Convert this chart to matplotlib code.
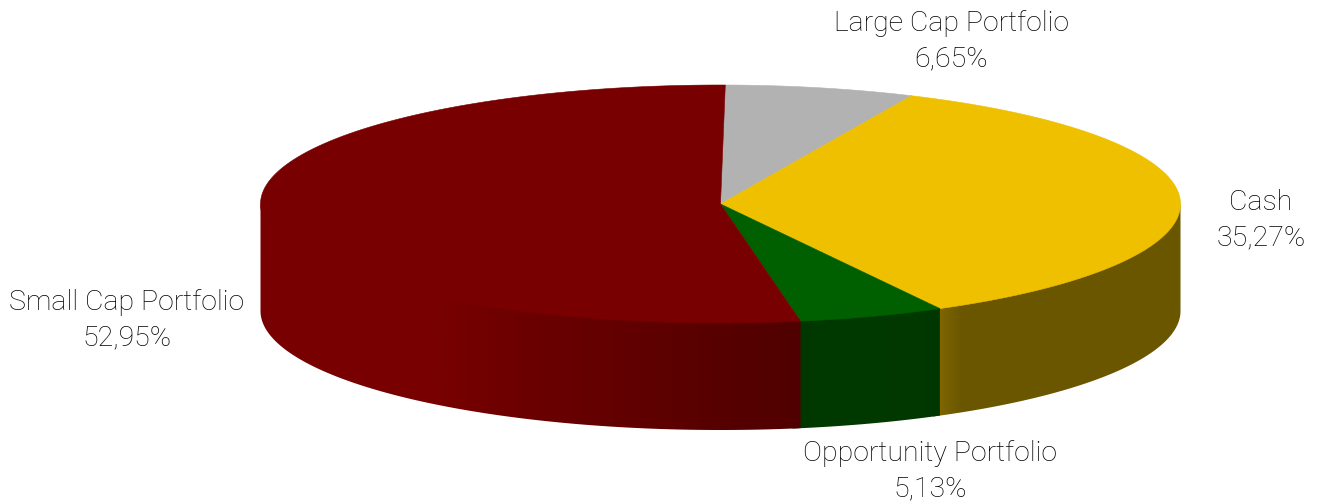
import numpy as np
import matplotlib
matplotlib.use('Agg')
import matplotlib.pyplot as plt
from matplotlib.colors import to_rgb
from matplotlib.patches import Polygon

labels = ['Large Cap Portfolio', 'Cash', 'Opportunity Portfolio', 'Small Cap Portfolio']
values = [6.65, 35.27, 5.13, 52.95]
value_labels = ['6,65%', '35,27%', '5,13%', '52,95%']
colors = ['#b2b2b2', '#eec000', '#006000', '#780000']
label_x = [951, 1261, 930, 127]
label_y = [41, 220, 471, 320]

# wall brightness per slice, read across the picture (x pixel -> level)
wall_x = {1: [940, 950, 962, 1181], 2: [801, 815, 860, 940], 3: [260, 440, 530, 620, 700, 801]}
wall_level = {1: [0.53, 0.49, 0.45, 0.45], 2: [0.56, 0.60, 0.60, 0.58], 3: [1.0, 1.0, 0.89, 0.82, 0.74, 0.67]}

cx, cy = 720.5, 205
rx, ry = 460, 119
depth = 107
start = 89.4

fig = plt.figure(figsize=(13.18, 5.02), dpi=100)
ax = fig.add_axes([0, 0, 1, 1])
ax.set_xlim(0, 1318)
ax.set_ylim(502, 0)
ax.axis('off')

def rim(t):
    r = np.radians(t)
    return cx + rx * np.cos(r), cy - ry * np.sin(r)

edges = start - np.cumsum([0] + values) * 3.6

# front walls, a gradient image clipped to the outline of each wall
for i in wall_x:
    a0, a1 = edges[i], edges[i + 1]
    if i == 3:
        a0, a1 = a0, -180  # only the part facing the viewer
    else:
        a0 = min(a0, 0)
        a1 = a1 - 1  # runs under the next wall, hides the seam
    ts = np.linspace(a0, a1, 300)
    x, y = rim(ts)
    px = np.r_[x, x[::-1]]
    # top edge pushed a little under the top face so no seam shows
    py = np.r_[y - 3, y[::-1] + depth]
    outline = Polygon(np.c_[px, py], closed=True, transform=ax.transData, fc='none', ec='none')
    ax.add_patch(outline)
    xs = np.arange(np.floor(px.min()), np.ceil(px.max()) + 1)
    lev = np.interp(xs, wall_x[i], wall_level[i])
    img = lev[None, :, None] * np.array(to_rgb(colors[i]))[None, None, :]
    im = ax.imshow(img, extent=[xs[0], xs[-1], py.max() + 1, py.min() - 1], aspect='auto',
                   interpolation='bilinear', zorder=2)
    im.set_clip_path(outline)

ax.set_xlim(0, 1318)
ax.set_ylim(502, 0)

# top faces
for i in range(len(values)):
    ts = np.linspace(edges[i], edges[i + 1], 200)
    x, y = rim(ts)
    ax.fill(np.r_[cx, x], np.r_[cy, y], color=colors[i], lw=0.4, zorder=3)

for i in range(len(labels)):
    ax.text(label_x[i], label_y[i], labels[i] + '\n' + value_labels[i], ha='center', va='center',
            fontsize=20.5, family='Roboto', fontweight='light', color='black', linespacing=1.37)

fig.savefig('out.png', dpi=100)
